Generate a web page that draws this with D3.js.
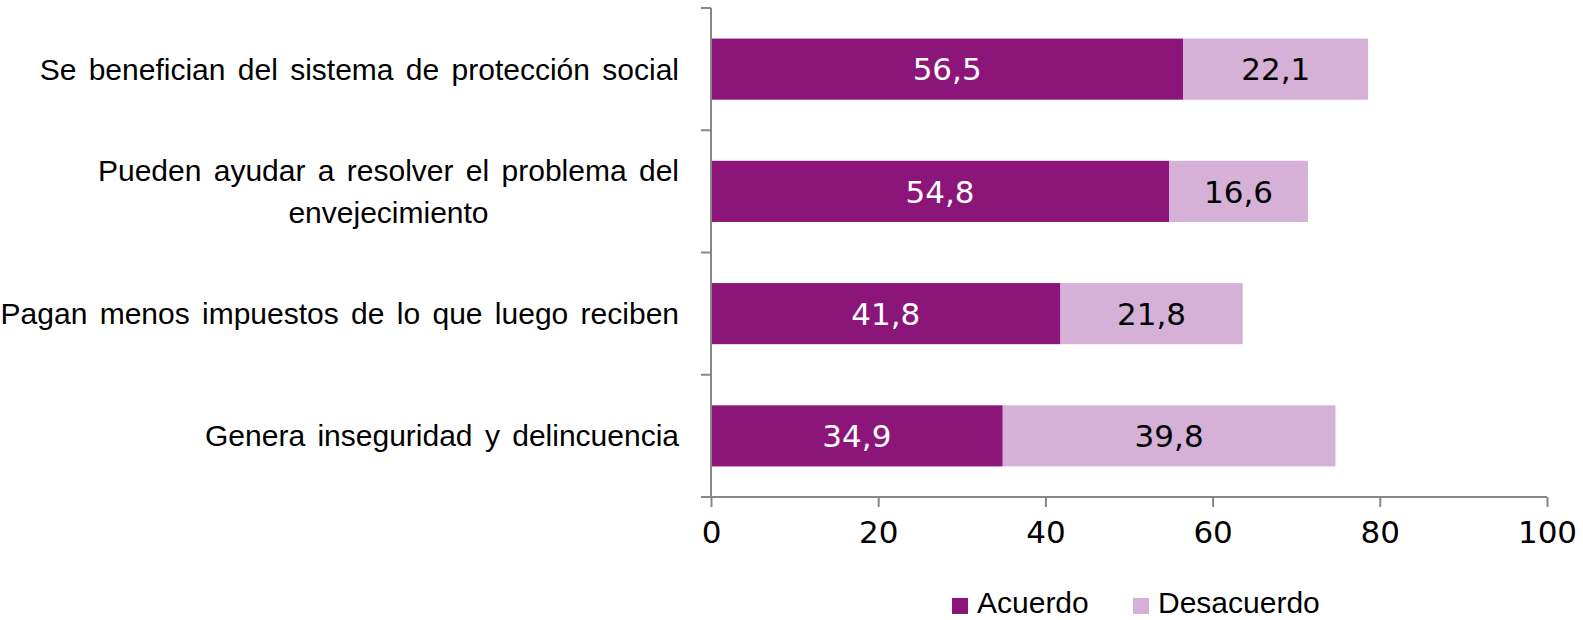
<!DOCTYPE html>
<html>
<head>
<meta charset="UTF-8">
<title>Acuerdo / Desacuerdo</title>
<script src="https://cdn.jsdelivr.net/npm/d3@7"></script>
<style>
  body { margin: 0; background: #fff; }
  .lab { font-family: "Liberation Sans", Arial, sans-serif; font-size: 30px; fill: #000; word-spacing: 4px; }
  .num { font-family: "DejaVu Sans", Verdana, sans-serif; font-size: 31px; }
</style>
</head>
<body>
<svg width="1583" height="620"></svg>
<script>
const categories = [
  ["Se benefician del sistema de protección social"],
  ["Pueden ayudar a resolver el problema del", "envejecimiento"],
  ["Pagan menos impuestos de lo que luego reciben"],
  ["Genera inseguridad y delincuencia"]
];
const acuerdo = [56.5, 54.8, 41.8, 34.9];
const desacuerdo = [22.1, 16.6, 21.8, 39.8];
const seriesNames = ["Acuerdo", "Desacuerdo"];
const colors = ["#8b1579", "#d5b1d8"];
const xTicks = [0, 20, 40, 60, 80, 100];

const svg = d3.select("svg");
const plotL = 711, plotR = 1547, plotT = 8, plotB = 497;

const x = d3.scaleLinear().domain([0, 100]).range([plotL, plotR]);
const y = d3.scaleBand().domain(d3.range(categories.length)).range([plotT, plotB]).paddingInner(0.5).paddingOuter(0.25);

const fmt = v => v.toFixed(1).replace(".", ",");

// bars
const rows = svg.append("g").selectAll("g").data(categories).join("g");
rows.append("rect")
  .attr("x", x(0))
  .attr("y", (d, i) => y(i))
  .attr("width", (d, i) => x(acuerdo[i]) - x(0))
  .attr("height", y.bandwidth())
  .attr("fill", colors[0]);
rows.append("rect")
  .attr("x", (d, i) => x(acuerdo[i]))
  .attr("y", (d, i) => y(i))
  .attr("width", (d, i) => x(acuerdo[i] + desacuerdo[i]) - x(acuerdo[i]))
  .attr("height", y.bandwidth())
  .attr("fill", colors[1]);

rows.append("text").attr("class", "num")
  .attr("x", (d, i) => x(acuerdo[i] / 2))
  .attr("y", (d, i) => y(i) + y.bandwidth() / 2)
  .attr("dy", "0.36em").attr("text-anchor", "middle").attr("fill", "#fff")
  .text((d, i) => fmt(acuerdo[i]));
rows.append("text").attr("class", "num")
  .attr("x", (d, i) => x(acuerdo[i] + desacuerdo[i] / 2))
  .attr("y", (d, i) => y(i) + y.bandwidth() / 2)
  .attr("dy", "0.36em").attr("text-anchor", "middle").attr("fill", "#000")
  .text((d, i) => fmt(desacuerdo[i]));

// category labels: lines centred on each other, block right-aligned
const labelRight = 679;
rows.each(function(lines, i) {
  const g = d3.select(this);
  const cy = y(i) + y.bandwidth() / 2;
  const t = g.append("text").attr("class", "lab").attr("text-anchor", "middle");
  const spans = t.selectAll("tspan").data(lines).join("tspan")
    .attr("x", 0)
    .attr("y", (d, j) => cy + (j - (lines.length - 1) / 2) * 42)
    .attr("dy", "0.35em")
    .text(d => d);
  const w = d3.max(spans.nodes(), n => n.getComputedTextLength());
  spans.attr("x", labelRight - w / 2);
});

// axes
const stroke = "#878787";
const yAxisG = svg.append("g").attr("stroke", stroke).attr("stroke-width", 2);
yAxisG.append("line").attr("x1", plotL).attr("x2", plotL).attr("y1", plotT).attr("y2", plotB);
const bandStep = y.step();
yAxisG.selectAll("line.t").data(d3.range(categories.length + 1)).join("line")
  .attr("class", "t")
  .attr("x1", plotL - 10).attr("x2", plotL)
  .attr("y1", i => plotT + i * bandStep).attr("y2", i => plotT + i * bandStep);

const xAxis = d3.axisBottom(x).tickValues(xTicks).tickSize(10).tickPadding(14).tickFormat(d => d);
const xg = svg.append("g").attr("transform", `translate(0,${plotB})`).call(xAxis);
xg.attr("font-size", null).attr("font-family", null);
xg.select(".domain").attr("stroke", stroke).attr("stroke-width", 2).attr("d", `M${plotL - 10},0H${plotR}`);
xg.selectAll(".tick line").attr("stroke", stroke).attr("stroke-width", 2);
xg.selectAll(".tick text").attr("class", "num").attr("fill", "#000");

// legend
const legend = svg.append("g").attr("transform", "translate(952,613)");
const legX = [0, 181];
seriesNames.forEach((name, i) => {
  const g = legend.append("g").attr("transform", `translate(${legX[i]},0)`);
  g.append("rect").attr("x", 0).attr("y", -15).attr("width", 16).attr("height", 16).attr("fill", colors[i]);
  g.append("text").attr("class", "lab").attr("x", 25).attr("font-size", 28).text(name);
});
</script>
</body>
</html>
